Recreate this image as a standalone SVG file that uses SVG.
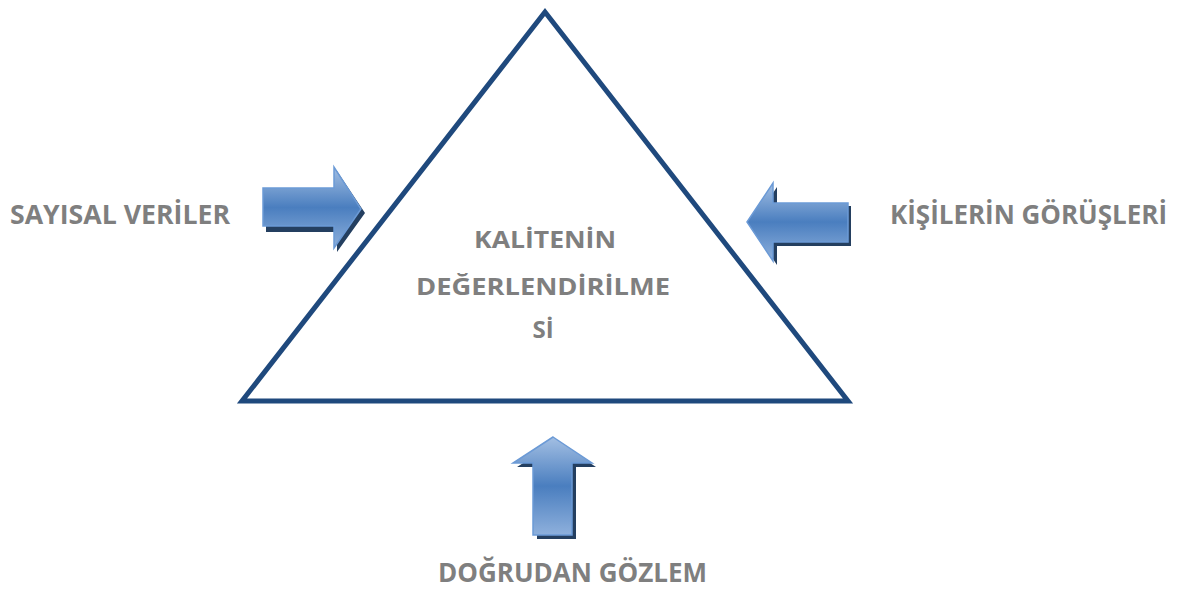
<svg xmlns="http://www.w3.org/2000/svg" width="1187" height="590" viewBox="0 0 1187 590">
<defs>
<linearGradient id="gv" x1="0" y1="0" x2="0" y2="1">
<stop offset="0" stop-color="#a3bfe3"/>
<stop offset="0.5" stop-color="#4a7ebf"/>
<stop offset="1" stop-color="#8eb0dc"/>
</linearGradient>
<style>
.lbl{font-family:"Open Sans","Liberation Sans",sans-serif;font-weight:bold;fill:#7f7f7f;}
.arr{fill:url(#gv);stroke:#6b9ad6;stroke-width:1.5;stroke-linejoin:miter;}
.shd{fill:#243f60;}
</style>
</defs>
<g id="triangle">
<polygon points="545,12 242,401 848,401" fill="#ffffff" stroke="#1f497d" stroke-width="5" stroke-linejoin="miter"/>
<text class="lbl" x="545" y="248" font-size="24" text-anchor="middle" textLength="142" lengthAdjust="spacingAndGlyphs">KALİTENİN</text>
<text class="lbl" x="543" y="295" font-size="24" text-anchor="middle" textLength="254" lengthAdjust="spacingAndGlyphs">DEĞERLENDİRİLME</text>
<text class="lbl" x="543" y="338" font-size="24" text-anchor="middle">Sİ</text>
</g>
<g id="connectors">
<g id="arrow-left-in">
<polygon class="shd" points="266,192 337,192 337,171 365,213 337,252 337,232 266,232"/>
<polygon class="arr" points="263,188 334,188 334,167 361,209 334,248 334,226 263,226"/>
</g>
<g id="arrow-right-in">
<polygon class="shd" points="751,226 777,187 777,206 851,206 851,246 777,246 777,265"/>
<polygon class="arr" points="747,222 773,183 773,203 848,203 848,242 773,242 773,261"/>
</g>
<g id="arrow-up">
<polygon class="shd" points="557,441 596,467 576,467 576,539 537,539 537,467 517,467"/>
<polygon class="arr" points="553,437 592,463 572,463 572,535 533,535 533,463 513,463"/>
</g>
</g>
<g id="label-sayisal"><text class="lbl" x="10" y="224" font-size="26" textLength="220" lengthAdjust="spacingAndGlyphs">SAYISAL VERİLER</text></g>
<g id="label-kisilerin"><text class="lbl" x="890" y="224" font-size="26" textLength="277" lengthAdjust="spacingAndGlyphs">KİŞİLERİN GÖRÜŞLERİ</text></g>
<g id="label-dogrudan"><text class="lbl" x="438" y="582" font-size="26" textLength="269" lengthAdjust="spacingAndGlyphs">DOĞRUDAN GÖZLEM</text></g>
</svg>
